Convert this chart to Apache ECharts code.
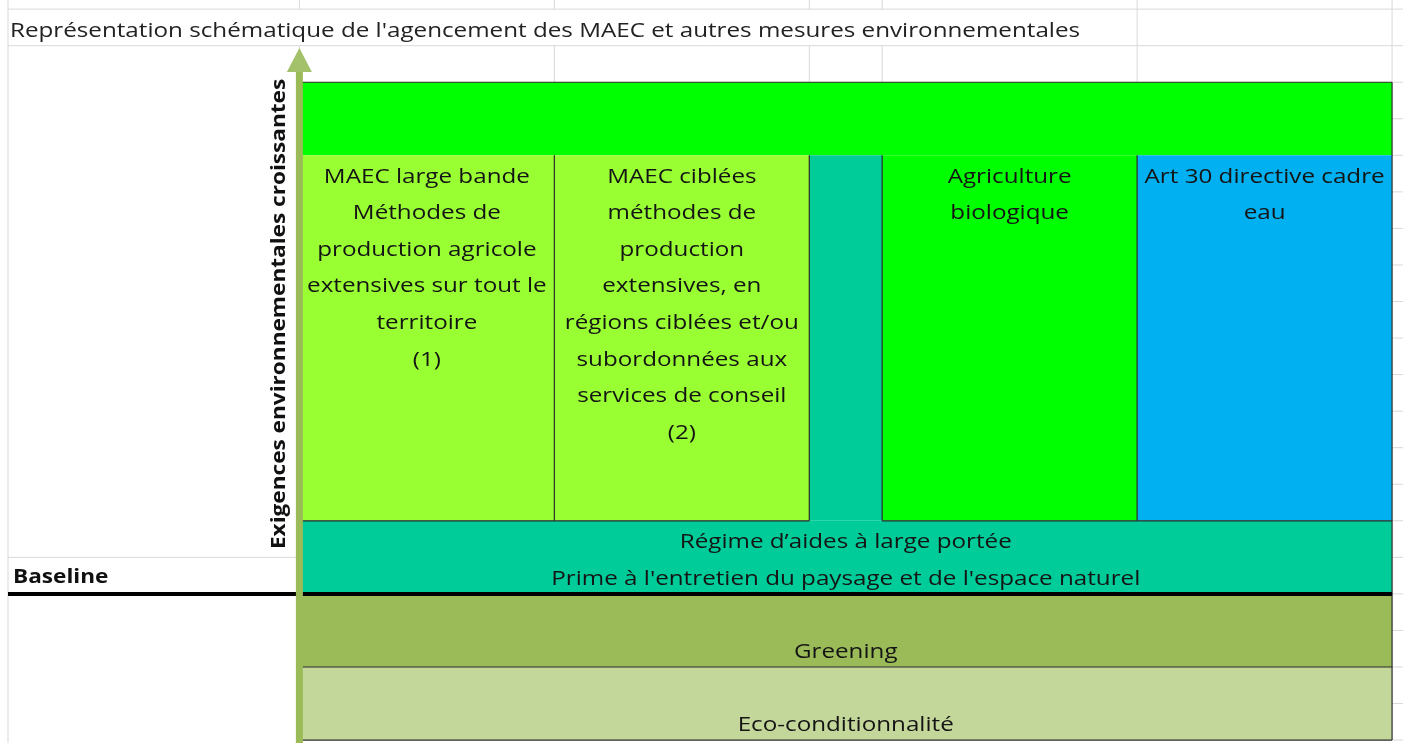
<!DOCTYPE html>
<html><head><meta charset="utf-8">
<script src="https://cdn.jsdelivr.net/npm/echarts@6/dist/echarts.min.js"></script>
<style>html,body{margin:0;padding:0;background:#fff}#main{width:1403px;height:743px}</style>
</head><body><div id="main"></div>
<script>
// ---------- texts ----------
const titleText = "Représentation schématique de l'agencement des MAEC et autres mesures environnementales";
const axisLabelText = 'Exigences environnementales croissantes';
const baselineText = 'Baseline';

// ---------- sheet structure (column widths in sheet units, rows are sheet rows) ----------
const columnWidths = [40, 35, 35, 10, 35, 35];
const sheetRowCount = 20;

// ---------- blocks of the schema ----------
const blockNames = ['Bande supérieure', 'MAEC large bande', 'MAEC ciblées', 'Régime (colonne)', 'Agriculture biologique', 'Art 30 directive cadre eau', 'Régime d’aides à large portée', 'Greening', 'Eco-conditionnalité'];
const blockColStart = [1, 1, 2, 3, 4, 5, 1, 1, 1];
const blockColEnd   = [6, 2, 3, 4, 5, 6, 6, 6, 6];
const blockRowStart = [2, 4, 4, 4, 4, 4, 14, 16, 18];
const blockRowEnd   = [4, 14, 14, 14, 14, 14, 16, 18, 20];
const blockLabelRow = [2, 4, 4, 4, 4, 4, 14, 17, 19];
const blockLabels = [
  [],
  ['MAEC large bande', 'Méthodes de', 'production agricole', 'extensives sur tout le', 'territoire', '(1)'],
  ['MAEC ciblées', 'méthodes de', 'production', 'extensives, en', 'régions ciblées et/ou', 'subordonnées aux', 'services de conseil', '(2)'],
  [],
  ['Agriculture', 'biologique'],
  ['Art 30 directive cadre', 'eau'],
  ['Régime d’aides à large portée', "Prime à l'entretien du paysage et de l'espace naturel"],
  ['Greening'],
  ['Eco-conditionnalité']
];

// border segments: [fromColumnEdge, fromRow, toColumnEdge, toRow]
const borderSegments = [
  [1, 2, 6, 2], [6, 2, 6, 20], [1, 2, 1, 20],
  [2, 4, 2, 14], [3, 4, 3, 14], [4, 4, 4, 14], [5, 4, 5, 14],
  [1, 14, 3, 14], [4, 14, 6, 14],
  [1, 18, 6, 18], [1, 20, 6, 20]
];
const baselineRow = 16;
const arrowColumnEdge = 1;
const arrowTipRow = 1.06;

// ---------- derived ----------
const edges = [0];
columnWidths.forEach(w => edges.push(edges[edges.length - 1] + w));
const sheetRight = 191.5;
const yTop = -0.25, yBottom = 20.08;

// spreadsheet gridlines [x1,y1,x2,y2] in sheet units
const gridSegs = [];
gridSegs.push([edges[0], 0, sheetRight, 0]);
gridSegs.push([edges[0], 1, sheetRight, 1]);
gridSegs.push([edges[0], 15, edges[1], 15]);
for (let r = 2; r <= sheetRowCount; r++) gridSegs.push([edges[6], r, sheetRight, r]);
gridSegs.push([edges[0], yTop, edges[0], yBottom]);
for (let c = 1; c <= 6; c++) {
  gridSegs.push([edges[c], yTop, edges[c], 0]);
  gridSegs.push([edges[c], 1, edges[c], 2]);
}
gridSegs.push([edges[5], 0, edges[5], 1]);
gridSegs.push([edges[6], 0, edges[6], 1]);

const blockFill = ['#00ff00', '#99ff33', '#99ff33', '#00cc99', '#00ff00', '#00b0f0', '#00cc99', '#9bbb59', '#c4d79b'];
const FONT = '"Open Sans", "Noto Sans", sans-serif';
const TXT = '#141414';
const STRETCH = 1.21;

const blockData = blockNames.map((n, i) => ({
  name: n,
  value: [edges[blockColStart[i]], edges[blockColEnd[i]], blockRowStart[i], blockRowEnd[i]]
}));

// free sheet texts: anchor in sheet units
const sheetTexts = [titleText, baselineText, axisLabelText];
const sheetTextStyle = [
  { align: 'left', weight: 'normal', rot: 0, stretch: 1.21, color: '#222222', dy: 3.5 },
  { align: 'left', weight: 'bold', rot: 0, stretch: 1.13, color: '#111111', dy: 2 },
  { align: 'center', weight: 'bold', rot: Math.PI / 2, stretch: 1.13, color: '#111111', dy: 0 }
];

function segRender(color, width) {
  return function (params, api) {
    const a = api.coord([api.value(0), api.value(1)]);
    const b = api.coord([api.value(2), api.value(3)]);
    return { type: 'line', shape: { x1: a[0], y1: a[1], x2: b[0], y2: b[1] },
      style: { stroke: color, lineWidth: width }, silent: true };
  };
}

const chart = echarts.init(document.getElementById('main'), null, { renderer: 'canvas' });
chart.setOption({
  animation: false,
  backgroundColor: '#ffffff',
  grid: { left: 8, right: 0, top: 0, bottom: 0 },
  xAxis: { type: 'value', min: 0, max: sheetRight, show: false },
  yAxis: { type: 'value', min: yTop, max: yBottom, inverse: true, show: false },
  series: [
    {
      type: 'custom', name: 'sheet grid', silent: true, z: 1,
      data: gridSegs,
      renderItem: segRender('#d9d9d9', 1)
    },
    {
      type: 'custom', name: 'blocs', silent: true, z: 2,
      data: blockData,
      renderItem: function (params, api) {
        const i = params.dataIndex;
        const p0 = api.coord([api.value(0), api.value(2)]);
        const p1 = api.coord([api.value(1), api.value(3)]);
        const rowPx = api.size([0, 1])[1];
        const children = [{ type: 'rect',
          shape: { x: p0[0], y: p0[1], width: p1[0] - p0[0], height: p1[1] - p0[1] },
          style: { fill: blockFill[i] } }];
        const lines = blockLabels[i];
        if (lines.length) {
          const ty = api.coord([0, blockLabelRow[i]])[1];
          children.push({ type: 'text', z2: 10,
            x: (p0[0] + p1[0]) / 2, y: ty + 3.5, scaleX: STRETCH,
            style: { text: lines.join('\n'), x: 0, y: 0,
              align: 'center', verticalAlign: 'top', lineHeight: rowPx,
              fontFamily: FONT, fontSize: 20, fill: TXT } });
        }
        return { type: 'group', children };
      }
    },
    {
      type: 'custom', name: 'bordures', silent: true, z: 3,
      data: borderSegments.map(s => [edges[s[0]], s[1], edges[s[2]], s[3]]),
      renderItem: segRender('#2a2a2a', 1.2)
    },
    {
      type: 'custom', name: 'baseline', silent: true, z: 4,
      data: [[edges[0], baselineRow, edges[6], baselineRow]],
      renderItem: segRender('#000000', 4)
    },
    {
      type: 'custom', name: 'flèche', silent: true, z: 5,
      data: [[edges[arrowColumnEdge], yBottom, arrowTipRow]],
      renderItem: function (params, api) {
        const b = api.coord([api.value(0), api.value(1)]);
        const t = api.coord([api.value(0), api.value(2)]);
        const x = b[0];
        const headH = 24, headW = 25, shaftW = 7;
        return { type: 'group', children: [
          { type: 'rect', shape: { x: x - shaftW / 2, y: t[1] + headH - 2, width: shaftW, height: b[1] - t[1] - headH + 2 },
            style: { fill: '#9bbb59' } },
          { type: 'polygon', shape: { points: [[x, t[1]], [x + headW / 2, t[1] + headH], [x - headW / 2, t[1] + headH]] },
            style: { fill: '#a3c06a' } }
        ] };
      }
    },
    {
      type: 'custom', name: 'textes', silent: true, z: 6,
      data: [[0.27, 0.5], [0.69, 15.5], [37.2, 8.34]],
      renderItem: function (params, api) {
        const i = params.dataIndex;
        const s = sheetTextStyle[i];
        const p = api.coord([api.value(0), api.value(1)]);
        return { type: 'text', x: p[0], y: p[1] + s.dy, rotation: s.rot, scaleX: s.stretch,
          style: { text: sheetTexts[i], x: 0, y: 0, align: s.align, verticalAlign: 'middle',
            fontFamily: FONT, fontSize: 20, fontWeight: s.weight, fill: s.color } };
      }
    }
  ]
});
</script></body></html>
